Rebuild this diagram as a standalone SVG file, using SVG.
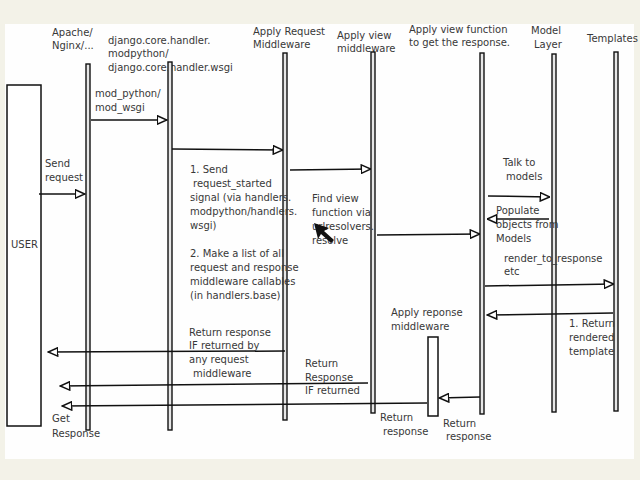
<svg xmlns="http://www.w3.org/2000/svg" width="640" height="480" viewBox="0 0 640 480">
<defs>
<marker id="ah" viewBox="0 0 11 10" refX="10.5" refY="5" markerWidth="11" markerHeight="10" markerUnits="userSpaceOnUse" orient="auto">
<path d="M0.8,0.8 L10.3,5 L0.8,9.2 Z" fill="#fff" stroke="#111" stroke-width="1.5"/>
</marker>
<style>
text{font-family:"DejaVu Sans","Liberation Sans",sans-serif;font-size:10px;fill:#383838}
.life{fill:#e6e6e6;stroke:#111;stroke-width:1.4}
.box{fill:#fff;stroke:#111;stroke-width:1.5}
.msg{stroke:#111;stroke-width:1.5;fill:none;marker-end:url(#ah)}
</style>
</defs>
<rect x="0" y="0" width="640" height="480" fill="#f3f2e8"/>
<rect x="5" y="24" width="629" height="435" fill="#fefefe"/>

<g id="user">
<rect class="box" x="7" y="85" width="34" height="341"/>
<text x="11" y="248">USER</text>
</g>
<g id="apache">
<text x="52" y="36">Apache/</text>
<text x="52" y="49">Nginx/...</text>
<rect class="life" x="86" y="64" width="4" height="366"/>
</g>
<g id="handler">
<text x="108" y="44">django.core.handler.</text>
<text x="108" y="57">modpython/</text>
<text x="108" y="71">django.core.handler.wsgi</text>
<rect class="life" x="168" y="62" width="4" height="368"/>
</g>
<g id="request-middleware">
<text x="253" y="35">Apply Request</text>
<text x="253" y="48">Middleware</text>
<rect class="life" x="283" y="53" width="4" height="367"/>
</g>
<g id="view-middleware">
<text x="337" y="39">Apply view</text>
<text x="337" y="52">middleware</text>
<rect class="life" x="371" y="52" width="4" height="361"/>
</g>
<g id="view-function">
<text x="409" y="33">Apply view function</text>
<text x="409" y="46">to get the response.</text>
<rect class="life" x="480" y="53" width="4" height="361"/>
</g>
<g id="model-layer">
<text x="531" y="34">Model</text>
<text x="534" y="48">Layer</text>
<rect class="life" x="552" y="54" width="4" height="358"/>
</g>
<g id="templates">
<text x="587" y="42">Templates</text>
<rect class="life" x="614" y="52" width="4" height="359"/>
</g>
<g id="response-middleware">
<text x="391" y="316">Apply reponse</text>
<text x="391" y="330">middleware</text>
<rect class="box" x="428" y="337" width="10" height="79"/>
</g>

<g id="connectors">
<line class="msg" x1="39" y1="194" x2="85" y2="194"/>
<line class="msg" x1="91" y1="120" x2="167" y2="120"/>
<line class="msg" x1="172" y1="149" x2="283" y2="150"/>
<line class="msg" x1="290" y1="170" x2="371" y2="169"/>
<line class="msg" x1="377" y1="235" x2="480" y2="234"/>
<line class="msg" x1="488" y1="196" x2="550" y2="197"/>
<line class="msg" x1="549" y1="219" x2="487" y2="219"/>
<line class="msg" x1="485" y1="286" x2="614" y2="284"/>
<line class="msg" x1="613" y1="313" x2="487" y2="315"/>
<line class="msg" x1="480" y1="397" x2="439" y2="398"/>
<line class="msg" x1="427" y1="403" x2="62" y2="406"/>
<line class="msg" x1="368" y1="383" x2="60" y2="386"/>
<line class="msg" x1="285" y1="351" x2="48" y2="352"/>
</g>

<g id="labels">
<text x="95" y="97">mod_python/</text>
<text x="95" y="111">mod_wsgi</text>
<text x="45" y="167">Send</text>
<text x="45" y="181">request</text>
<text x="190" y="173">1. Send</text>
<text x="193" y="187">request_started</text>
<text x="190" y="201">signal (via handlers.</text>
<text x="190" y="215">modpython/handlers.</text>
<text x="190" y="229">wsgi)</text>
<text x="190" y="257">2. Make a list of all</text>
<text x="190" y="271">request and response</text>
<text x="190" y="285">middleware callables</text>
<text x="190" y="299">(in handlers.base)</text>
<text x="312" y="202">Find view</text>
<text x="312" y="216">function via</text>
<text x="312" y="230">urlresolvers.</text>
<text x="312" y="244">resolve</text>
<text x="503" y="166">Talk to</text>
<text x="506" y="180">models</text>
<text x="496" y="214">Populate</text>
<text x="496" y="228">objects from</text>
<text x="496" y="242">Models</text>
<text x="504" y="262">render_to_response</text>
<text x="504" y="275">etc</text>
<text x="569" y="327">1. Return</text>
<text x="569" y="341">rendered</text>
<text x="569" y="355">template</text>
<text x="189" y="336">Return response</text>
<text x="189" y="349">IF returned by</text>
<text x="189" y="363">any request</text>
<text x="193" y="377">middleware</text>
<text x="305" y="367">Return</text>
<text x="305" y="381">Response</text>
<text x="305" y="394">IF returned</text>
<text x="380" y="421">Return</text>
<text x="383" y="435">response</text>
<text x="443" y="427">Return</text>
<text x="446" y="440">response</text>
<text x="52" y="422">Get</text>
<text x="52" y="437">Response</text>
</g>

<polygon points="314,223 329,228 324,231 334,240 331,243 321,234 318,239" fill="#111"/>
</svg>
